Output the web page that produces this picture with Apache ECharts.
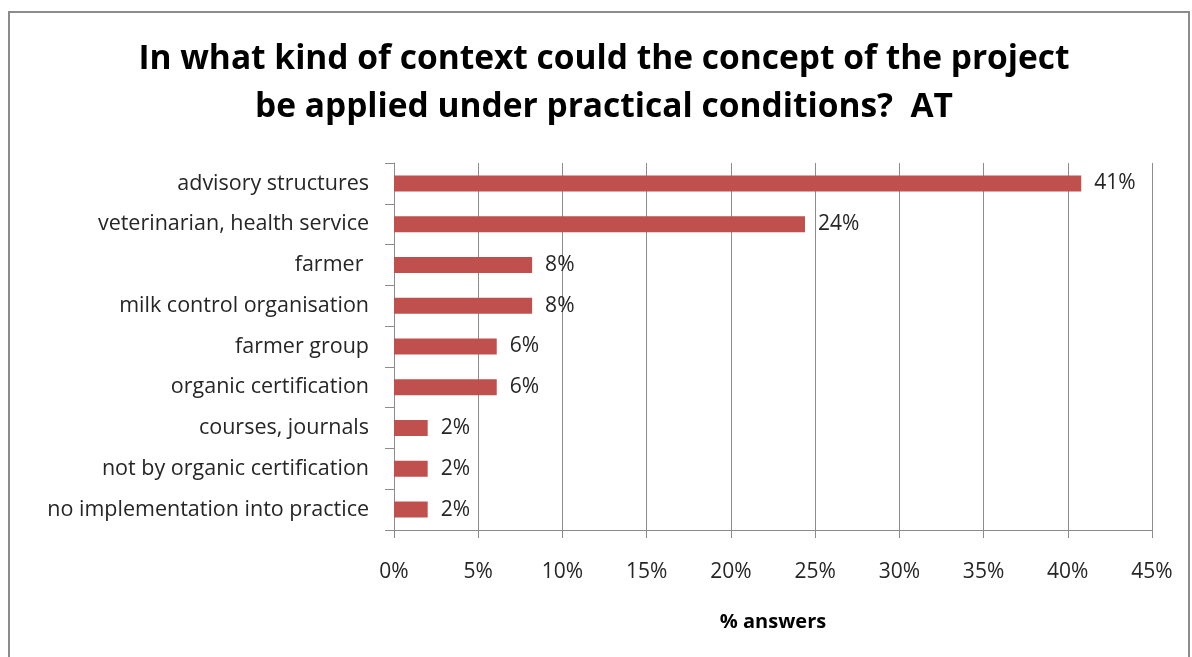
<!DOCTYPE html>
<html>
<head>
<meta charset="utf-8">
<script src="https://cdn.jsdelivr.net/npm/echarts@6/dist/echarts.min.js"></script>
<style>
  html, body { margin: 0; padding: 0; background: #ffffff; }
  #chart { width: 1192px; height: 657px; }
</style>
</head>
<body>
<div id="chart"></div>
<script>
// Survey answers, share of respondents (%)
const categories = [
  'advisory structures',
  'veterinarian, health service',
  'farmer ',
  'milk control organisation',
  'farmer group',
  'organic certification',
  'courses, journals',
  'not by organic certification',
  'no implementation into practice'
];
const shares = [40.8, 24.4, 8.2, 8.2, 6.1, 6.1, 2.0, 2.0, 2.0];
const tickMin = 0;
const tickMax = 45;
const tickStep = 5;
const titleText = 'In what kind of context could the concept of the project\nbe applied under practical conditions?  AT';

const FONT = '"Open Sans", "Noto Sans", sans-serif';

const chart = echarts.init(document.getElementById('chart'), null, { renderer: 'canvas' });
chart.setOption({
  animation: false,
  backgroundColor: '#ffffff',
  graphic: [{
    type: 'rect',
    shape: { x: 9, y: 12, width: 1180, height: 700 },
    style: { fill: 'none', stroke: '#8c8c8c', lineWidth: 2 },
    silent: true
  }, {
    // two-line chart heading, centred over the whole frame
    type: 'text',
    x: 604,
    y: 35,
    silent: true,
    style: {
      text: titleText,
      align: 'center',
      verticalAlign: 'top',
      fontFamily: FONT,
      fontWeight: 'bold',
      fontSize: 33.5,
      lineHeight: 48,
      fill: '#000000'
    }
  }],
  grid: { left: 394, top: 163, right: 40, bottom: 127, containLabel: false },
  xAxis: {
    type: 'value',
    min: tickMin,
    max: tickMax,
    interval: tickStep,
    name: '% answers',
    nameLocation: 'middle',
    nameGap: 82,
    nameTextStyle: { fontFamily: FONT, fontWeight: 'bold', fontSize: 20, color: '#000000' },
    axisLine: { show: true, lineStyle: { color: '#8c8c8c', width: 1 } },
    axisTick: { show: true, length: 8, lineStyle: { color: '#8c8c8c' } },
    axisLabel: {
      margin: 32,
      fontFamily: FONT,
      fontSize: 21,
      color: '#262626',
      formatter: v => v + '%'
    },
    splitLine: { show: true, lineStyle: { color: '#8c8c8c', width: 1 } }
  },
  yAxis: {
    type: 'category',
    data: categories,
    inverse: true,
    axisLine: { show: true, lineStyle: { color: '#8c8c8c', width: 1 } },
    axisTick: { show: true, length: 9, alignWithLabel: false, lineStyle: { color: '#8c8c8c' } },
    axisLabel: {
      margin: 25,
      fontFamily: FONT,
      fontSize: 21.5,
      color: '#262626'
    },
    splitLine: { show: false }
  },
  series: [{
    type: 'bar',
    data: shares,
    barWidth: 16,
    itemStyle: { color: '#c0504d' },
    label: {
      show: true,
      position: 'right',
      distance: 13,
      fontFamily: FONT,
      fontSize: 21,
      color: '#262626',
      formatter: p => Math.round(p.value) + '%'
    }
  }]
});
</script>
</body>
</html>
